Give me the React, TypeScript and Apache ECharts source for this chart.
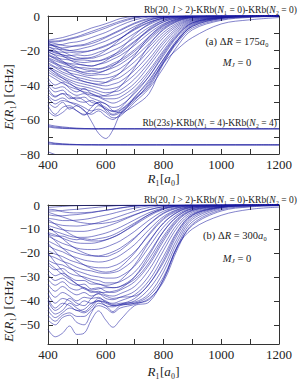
import { useEffect, useRef } from 'react';
import * as echarts from 'echarts';

// Sample positions R1 [a0]
const R_GRID = [400, 425, 450, 475, 500, 525, 550, 575, 600, 625, 650, 700, 750, 800, 850, 900, 1000, 1100, 1200];

// Panel (a): ΔR = 175 a0, Rb(20,l>2) manifold curves [GHz]
const curvesA: number[][] = [
  [-14, -13.3, -12.5, -11.3, -10, -8.6, -7, -5.8, -4.5, -3, -1.5, -0.2, 0, 0, 0, 0, 0, 0, 0],
  [-15, -15, -14.5, -13.5, -12.5, -11.3, -10, -8.5, -7, -5.3, -3.8, -1.2, -0.2, 0, 0, 0, 0, 0, 0],
  [-16, -16.8, -16.5, -15.5, -15, -14, -12.5, -11, -9.5, -7.5, -5.5, -2.3, -0.6, -0.1, 0, 0, 0, 0, 0],
  [-17, -17.5, -18.5, -18, -17, -16.5, -15, -13.5, -12, -10, -8, -4, -1.3, -0.3, 0, 0, 0, 0, 0],
  [-18, -19, -19.5, -20, -19.5, -18.5, -17.5, -16, -14.5, -12.5, -10.5, -6, -2.5, -0.7, -0.1, 0, 0, 0, 0],
  [-19, -20.5, -21, -21, -21.5, -21, -20, -18.5, -17, -15, -13, -8, -3.8, -1.2, -0.3, 0, 0, 0, 0],
  [-20, -21, -22.5, -23, -22.5, -23, -22.5, -21, -19.5, -17.5, -15.5, -10, -5, -1.8, -0.5, -0.1, 0, 0, 0],
  [-21, -22.5, -23.5, -24.5, -25, -24.5, -24.5, -23.5, -22, -20, -18, -12.5, -6.5, -2.5, -0.8, -0.2, 0, 0, 0],
  [-22, -24, -25, -25.5, -26.5, -27, -26.5, -26, -24.5, -22.5, -20.5, -14.5, -8, -3.3, -1.1, -0.3, 0, 0, 0],
  [-23, -24.5, -26.5, -27.5, -28, -28.5, -29, -28, -27, -25, -23, -17, -10, -4.5, -1.6, -0.5, 0, 0, 0],
  [-24, -26, -27.5, -29, -30, -30, -30.5, -30.5, -29.5, -27.5, -25.5, -19.5, -12, -5.5, -2, -0.6, -0.1, 0, 0],
  [-25, -27.5, -29, -30, -31.5, -32.5, -32, -32.5, -31.5, -30, -28, -22, -14, -6.8, -2.6, -0.8, -0.1, 0, 0],
  [-26, -28, -30.5, -31.5, -32.5, -34, -34.5, -34, -34, -32.5, -30.5, -24, -16, -8, -3.2, -1, -0.1, 0, 0],
  [-27, -29.5, -31, -33, -34, -35, -36, -36.5, -36, -35, -33, -26.5, -18, -9.5, -4, -1.3, -0.2, 0, 0],
  [-28, -30, -32.5, -34, -35.5, -36.5, -37.5, -38, -38.5, -37, -35.5, -29, -20, -11, -4.8, -1.7, -0.3, 0, 0],
  [-29, -31.5, -33.5, -35.5, -37, -38, -39, -40, -40.5, -39.5, -38, -31.5, -22.5, -12.5, -5.6, -2, -0.4, 0, 0],
  [-30, -32.5, -35, -37, -38.5, -39.5, -40.5, -41.5, -42.5, -42, -40.5, -34, -25, -14.5, -6.5, -2.4, -0.5, -0.1, 0],
  [-31, -34, -36, -38, -40, -41, -42, -43.5, -44.5, -44, -43, -36.5, -27, -16, -7.5, -2.8, -0.6, -0.1, 0],
  [-32.5, -35, -37.5, -39.5, -41.5, -42.5, -43.5, -45, -46.5, -46, -45, -39, -29, -18, -8.5, -3.2, -0.7, -0.1, 0],
  [-34, -36.5, -39, -41, -42.5, -44, -45, -46.5, -48, -48, -47, -41, -31.5, -20, -9.5, -3.7, -0.8, -0.2, 0],
  [-36, -40, -38.5, -42, -44, -42, -45, -47, -49, -50.5, -49, -43, -33, -21, -10.5, -4, -0.9, -0.2, 0],
  [-38, -42, -41, -44, -46, -45, -47.5, -49, -51, -53, -52, -45, -35, -23, -11.5, -4.5, -1, -0.2, 0],
  [-40, -44, -43, -47, -48, -47, -50, -51, -53, -55.5, -54.5, -47, -37, -25, -13, -5, -1.1, -0.3, 0],
  [-42, -46.5, -45, -48, -47, -49, -52, -50, -55, -57.5, -56, -49, -39, -27, -14, -5.5, -1.2, -0.3, 0],
  [-46, -49, -47.5, -50, -52, -54.5, -61, -68, -71, -66, -57, -48, -40, -26, -14, -6, -1.4, -0.3, 0],
  [-50, -53, -50, -54, -52, -55, -57, -55, -58, -60, -57, -52, -45, -27.5, -19, -12.5, -4.6, -2.2, -0.9],
  [-52, -57, -53, -52, -55, -57.5, -53, -50, -51, -55, -56, -47, -38, -25, -14, -6, -1.5, -0.4, 0],
  [-55, -58, -56, -53, -55, -57, -56, -52, -54, -57, -55, -48, -41, -27, -15, -7, -2, -0.6, 0],
  [-15.5, -18, -20.5, -22.5, -24, -24.5, -24, -22.5, -20, -17, -13.5, -7, -2.5, -0.6, -0.1, 0, 0, 0, 0],
  [-17.5, -20, -23, -25.5, -27.5, -28.5, -29, -28, -26, -23, -19.5, -11, -4.5, -1.2, -0.2, 0, 0, 0, 0],
  [-20.5, -23, -26, -29, -31.5, -33, -33.5, -33, -31.5, -29, -25.5, -16, -7.5, -2.5, -0.6, -0.1, 0, 0, 0],
  [-24.5, -27, -30, -33, -36, -38, -39, -39.5, -38.5, -36, -33, -23, -12, -5, -1.6, -0.4, 0, 0, 0],
  [-29.5, -33, -36, -39, -42, -44.5, -46, -46.5, -46, -44, -41, -30, -17, -7.5, -2.8, -0.8, -0.1, 0, 0],
  [-44, -47, -45, -46, -49, -50, -49, -51, -54, -55, -53.5, -44, -35, -22, -11, -4, -0.9, -0.2, 0],
  [-47, -51, -49, -50, -51, -53, -55, -54, -56, -59, -58, -50, -42, -30, -17, -8, -2.5, -0.8, -0.2],
  [-14.5, -14.5, -14, -13, -12, -10.5, -9, -7.5, -6, -4.5, -3, -0.8, -0.1, 0, 0, 0, 0, 0, 0],
  [-15, -16, -17, -17.5, -17.5, -17, -16, -14.5, -12.5, -10.5, -8.5, -4.5, -1.8, -0.5, -0.1, 0, 0, 0, 0],
  [-16.5, -17.5, -19, -20, -20.5, -20.5, -20, -19, -17.5, -15.5, -13, -7.5, -3.5, -1.2, -0.3, 0, 0, 0, 0],
  [-19.5, -21.5, -22.5, -24, -25.5, -25.5, -26, -26, -25, -23.5, -21.5, -15, -8.5, -3.5, -1.1, -0.3, 0, 0, 0],
  [-22.5, -25, -27, -28, -29.5, -31, -31.5, -31, -30, -28.5, -26.5, -20.5, -13, -6, -2.2, -0.6, -0.1, 0, 0],
];

// Panel (a): Rb(23s)-KRb(N=4)-KRb(N=4) and lower thresholds [GHz]
const flatA: number[][] = [
  [-63, -63.8, -64.3, -64.7, -65, -65.2, -65.3, -65.4, -65.4, -65.4, -65.4, -65.4, -65.4, -65.4, -65.4, -65.4, -65.4, -65.4, -65.4],
  [-63.7, -64.4, -64.8, -65.1, -65.3, -65.4, -65.4, -65.4, -65.4, -65.4, -65.4, -65.4, -65.4, -65.4, -65.4, -65.4, -65.4, -65.4, -65.4],
  [-64.3, -64.9, -65.2, -65.3, -65.4, -65.4, -65.4, -65.4, -65.4, -65.4, -65.4, -65.4, -65.4, -65.4, -65.4, -65.4, -65.4, -65.4, -65.4],
  [-73, -73.7, -74.1, -74.3, -74.5, -74.6, -74.6, -74.7, -74.7, -74.7, -74.7, -74.7, -74.7, -74.7, -74.7, -74.7, -74.7, -74.7, -74.7],
  [-73.5, -74, -74.3, -74.5, -74.6, -74.7, -74.7, -74.7, -74.7, -74.7, -74.7, -74.7, -74.7, -74.7, -74.7, -74.7, -74.7, -74.7, -74.7],
  [-74.2, -74.5, -74.6, -74.7, -74.7, -74.7, -74.7, -74.7, -74.7, -74.7, -74.7, -74.7, -74.7, -74.7, -74.7, -74.7, -74.7, -74.7, -74.7],
  [-78.7, -80.3, -81, -81.5, -82, -82, -82, -82, -82, -82, -82, -82, -82, -82, -82, -82, -82, -82, -82],
];

// Panel (b): ΔR = 300 a0 curves [GHz]
const curvesB: number[][] = [
  [-1, -0.8, -0.6, -0.4, -0.3, -0.2, -0.1, 0, 0, 0, 0, 0, 0, 0, 0, 0, 0, 0, 0],
  [-2.5, -2.5, -2.3, -2, -1.8, -1.5, -1.2, -0.9, -0.6, -0.4, -0.2, 0, 0, 0, 0, 0, 0, 0, 0],
  [-4, -4.5, -4.5, -4.2, -4, -3.6, -3.2, -2.7, -2.2, -1.7, -1.2, -0.4, -0.1, 0, 0, 0, 0, 0, 0],
  [-5.5, -6, -6.5, -6.5, -6.3, -6, -5.5, -4.8, -4.2, -3.5, -2.7, -1.3, -0.4, -0.1, 0, 0, 0, 0, 0],
  [-7, -7.8, -8.5, -8.7, -8.8, -8.5, -8, -7.3, -6.5, -5.6, -4.6, -2.6, -1, -0.3, 0, 0, 0, 0, 0],
  [-8.5, -9.5, -10.3, -10.8, -11, -11, -10.5, -9.8, -9, -8, -6.8, -4.2, -2, -0.7, -0.2, 0, 0, 0, 0],
  [-10, -11, -12, -13, -13.5, -13.5, -13.2, -12.5, -11.7, -10.6, -9.3, -6.2, -3.2, -1.2, -0.4, -0.1, 0, 0, 0],
  [-11.5, -12.5, -13.8, -15, -15.8, -16, -16, -15.5, -14.6, -13.4, -12, -8.4, -4.6, -1.8, -0.6, -0.2, 0, 0, 0],
  [-13, -14.5, -16, -17, -18, -18.5, -18.6, -18.4, -17.6, -16.4, -15, -11, -6.3, -2.6, -0.9, -0.3, 0, 0, 0],
  [-15, -16.5, -18, -19, -20, -20.8, -21.2, -21.2, -20.6, -19.5, -18, -13.6, -8.2, -3.6, -1.3, -0.4, 0, 0, 0],
  [-17, -18.5, -19.5, -21, -22, -23, -23.5, -23.8, -23.5, -22.5, -21, -16.5, -10.3, -4.8, -1.8, -0.6, -0.1, 0, 0],
  [-19, -20.5, -21.5, -23, -24, -25, -25.8, -26.2, -26.2, -25.5, -24.2, -19.5, -12.5, -6, -2.4, -0.8, -0.1, 0, 0],
  [-21, -22, -23.5, -24.5, -26, -27, -27.5, -28.3, -28.5, -28.2, -27.2, -22.5, -15, -7.5, -3, -1, -0.2, 0, 0],
  [-23, -24.5, -25, -26.5, -27.5, -28.5, -29.5, -30, -30.5, -30.5, -29.8, -25.5, -17.5, -9.2, -3.8, -1.3, -0.2, 0, 0],
  [-25, -27, -26.5, -28.5, -29.5, -30, -31, -31.5, -32.5, -32.5, -32, -28, -20, -11, -4.6, -1.6, -0.3, 0, 0],
  [-27, -29.5, -28.5, -30, -31.5, -31.5, -33, -33, -34, -34.5, -34, -30, -22.5, -13, -5.5, -2, -0.4, -0.1, 0],
  [-29, -31.5, -30.5, -32.5, -33.5, -33, -35, -34.5, -36, -36.5, -35.5, -32, -25, -15, -6.5, -2.4, -0.5, -0.1, 0],
  [-31, -33.5, -32, -34.5, -35.5, -34.5, -36.5, -36, -37.5, -38, -37, -34, -27, -17, -7.7, -2.9, -0.6, -0.1, 0],
  [-33, -36, -34, -36, -37.5, -36.5, -38, -37, -39, -39.5, -38.5, -36, -29.5, -19, -9, -3.5, -0.7, -0.1, 0],
  [-35, -38.5, -36.5, -38, -40, -38.5, -39, -38.5, -40.5, -41, -40, -37.5, -31.5, -21.5, -10.5, -4, -0.8, -0.2, 0],
  [-37, -41, -39, -40, -42, -40, -41, -40, -42, -42.5, -41.5, -39, -33, -24, -12, -4.5, -0.9, -0.2, 0],
  [-39, -43, -41, -42, -44, -43.5, -41, -40, -41, -42, -41.5, -40, -35, -26, -13.5, -5.2, -1, -0.2, 0],
  [-42, -45.5, -44, -41, -43, -44.5, -42, -39, -40, -41.5, -41, -40.5, -37, -28, -15, -6, -1.2, -0.3, 0],
  [-44, -47, -45, -43, -44, -45, -43, -40, -40.5, -42, -41.7, -41, -38, -30, -16.5, -7, -1.5, -0.4, -0.1],
  [-46, -48.5, -46, -45, -46.5, -46.5, -44, -42, -43, -45, -43, -41.5, -39, -32, -18, -8, -2, -0.6, -0.2],
  [-52, -55, -53.5, -50.5, -54, -53.5, -48, -44.2, -48, -51, -48, -42, -40.5, -31, -17, -10, -4.3, -1.8, -0.9],
  [-6, -8, -10, -12, -13.5, -14.5, -15, -15, -14.5, -13.5, -12, -8, -4, -1.5, -0.4, 0, 0, 0, 0],
  [-9, -11.5, -14, -16.5, -18.5, -20, -21, -21.5, -21.5, -20.5, -19, -14, -8, -3.3, -1.1, -0.3, 0, 0, 0],
  [-12, -15, -18, -20.5, -23, -25, -26.5, -27.5, -28, -27.5, -26, -20, -12, -5.5, -2, -0.6, -0.1, 0, 0],
  [-16, -19.5, -23, -26, -28.5, -30.5, -32, -33, -33.5, -33, -31.5, -25, -15.5, -7.5, -2.8, -0.9, -0.1, 0, 0],
  [-20, -24, -27.5, -30.5, -33, -35, -36, -36.5, -36.5, -36, -35, -30, -21, -11, -4.5, -1.5, -0.2, 0, 0],
  [-3, -4, -5, -6, -7, -7.5, -7.8, -7.8, -7.5, -7, -6.2, -4, -2, -0.7, -0.2, 0, 0, 0, 0],
  [-24, -26.5, -29, -31, -33, -34.5, -35.5, -35, -34.5, -34.5, -34, -31, -24, -14, -6, -2.2, -0.4, -0.1, 0],
  [-1.8, -2, -2.8, -3.2, -3.3, -3.2, -3, -2.6, -2.2, -1.8, -1.3, -0.5, -0.1, 0, 0, 0, 0, 0, 0],
  [-12, -13, -13, -14, -14.5, -14, -14.5, -14, -13.5, -12.5, -11, -7.5, -4, -1.5, -0.4, -0.1, 0, 0, 0],
  [-48, -50, -47, -46, -49, -50, -45, -41, -42, -44.5, -42, -41, -39.5, -31, -17, -8.5, -2.5, -0.8, -0.3],
  [-40, -44, -42, -39, -41, -42, -39, -37, -38, -39, -38.5, -38, -33, -23, -11, -4.2, -0.9, -0.2, 0],
];

const X_TICKS = { min: 400, max: 1200, step: 200 };
const Y_A = { min: -80, max: 0, step: 20 };
const Y_B = { min: -58, max: 0 };

const FONT = "'Liberation Serif', 'DejaVu Serif', serif";
const AX = '#333';
const TXT = '#222';
const LINE = '#1c1ca0';

const fmtNum = (v: number) => (v < 0 ? '\u2212' + String(-v) : String(v));

function tok(size: number, italic = false) {
  return { fontFamily: FONT, fontSize: size, fontStyle: italic ? 'italic' : 'normal', fill: TXT, color: TXT };
}
function richSet(size: number) {
  return {
    n: tok(size),
    i: tok(size, true),
    s: { ...tok(size * 0.68, true), verticalAlign: 'bottom', lineHeight: size * 1.3 },
  };
}

function xAxesFor(grid: number, nameGap: number) {
  const common = {
    type: 'value',
    gridIndex: grid,
    min: X_TICKS.min,
    max: X_TICKS.max,
    interval: X_TICKS.step,
    splitLine: { show: false },
    axisLine: { show: true, onZero: false, lineStyle: { color: AX, width: 1 } },
    axisTick: { show: true, inside: true, length: 5, lineStyle: { color: AX } },
    minorTick: { show: true, splitNumber: 2, length: 5, lineStyle: { color: AX } },
  };
  return [
    {
      ...common,
      position: 'bottom',
      axisLabel: { color: TXT, fontFamily: FONT, fontSize: 13, margin: 4, formatter: (v: number) => String(v) },
      name: '{i|R}{n|\u2081[}{i|a}{n|\u2080]}',
      nameLocation: 'middle',
      nameGap,
      nameTextStyle: { fontFamily: FONT, fontSize: 13, color: TXT, rich: richSet(13) },
    },
    { ...common, position: 'top', axisLabel: { show: false } },
  ];
}

function yAxesFor(grid: number, cfg: { min: number; max: number; step?: number }) {
  const common: any = {
    type: 'value',
    gridIndex: grid,
    min: cfg.min,
    max: cfg.max,
    splitLine: { show: false },
    axisLine: { show: true, onZero: false, lineStyle: { color: AX, width: 1 } },
    axisTick: { show: true, inside: true, length: 5, lineStyle: { color: AX } },
  };
  if (cfg.step) {
    common.interval = cfg.step;
    common.minorTick = { show: true, splitNumber: 2, length: 5, lineStyle: { color: AX } };
  } else {
    common.splitNumber = 6;
  }
  return [
    {
      ...common,
      position: 'left',
      axisLabel: {
        color: TXT,
        fontFamily: FONT,
        fontSize: 13,
        margin: 8,
        formatter: (v: number) => (Math.abs(v % 10) > 1e-6 ? '' : fmtNum(v)),
      },
    },
    { ...common, position: 'right', axisLabel: { show: false } },
  ];
}

function seriesFrom(curves: number[][], axisIdx: number, width: number, opacity: number) {
  return curves.map((c) => ({
    type: 'line',
    xAxisIndex: axisIdx,
    yAxisIndex: axisIdx,
    data: c.map((v, k) => [R_GRID[k], v]),
    showSymbol: false,
    smooth: 0.35,
    clip: true,
    silent: true,
    lineStyle: { color: LINE, width, opacity },
  }));
}

function gtext(x: number, y: number, text: string, size: number, align: string, rotation = 0) {
  return {
    type: 'text',
    x,
    y,
    rotation,
    silent: true,
    style: {
      text,
      fontFamily: FONT,
      fontSize: size,
      fill: TXT,
      align,
      verticalAlign: 'middle',
      rich: richSet(size),
    },
  };
}

export default function App() {
  const ref = useRef<HTMLDivElement>(null);
  useEffect(() => {
    if (!ref.current) return;
    const chart = echarts.init(ref.current, null, { renderer: 'svg' });
    const option: any = {
      animation: false,
      backgroundColor: '#ffffff',
      grid: [
        { left: 48, top: 16, width: 231, height: 138 },
        { left: 48, top: 205, width: 231, height: 139 },
      ],
      xAxis: [...xAxesFor(0, 16), ...xAxesFor(1, 21)],
      yAxis: [...yAxesFor(0, Y_A), ...yAxesFor(1, Y_B)],
      series: [
        ...seriesFrom(curvesA, 0, 0.75, 0.72),
        ...seriesFrom(flatA, 0, 0.7, 0.85),
        ...seriesFrom(curvesB, 2, 0.75, 0.72),
      ],
      graphic: [
        gtext(8, 97, '{i|E}{n|(}{i|R}{n|\u2081) [GHz]}', 13, 'center', Math.PI / 2),
        gtext(8, 309, '{i|E}{n|(}{i|R}{n|\u2081) [GHz]}', 13, 'center', Math.PI / 2),
        gtext(297, 10, '{n|Rb(20, }{i|l}{n| > 2)-KRb(}{i|N}{n|\u2081 = 0)-KRb(}{i|N}{n|\u2082 = 0)}', 9.5, 'right'),
        gtext(297, 200, '{n|Rb(20, }{i|l}{n| > 2)-KRb(}{i|N}{n|\u2081 = 0)-KRb(}{i|N}{n|\u2082 = 0)}', 9.5, 'right'),
        gtext(237, 41, '{n|(a) \u0394}{i|R}{n| = 175}{i|a}{n|\u2080}', 10.5, 'center'),
        gtext(237, 62, '{i|M}{s|J}{n| = 0}', 10.5, 'center'),
        gtext(235, 235, '{n|(b) \u0394}{i|R}{n| = 300}{i|a}{n|\u2080}', 10.5, 'center'),
        gtext(237, 258, '{i|M}{s|J}{n| = 0}', 10.5, 'center'),
        gtext(277, 123, '{n|Rb(23}{i|s}{n|)-KRb(}{i|N}{n|\u2081 = 4)-KRb(}{i|N}{n|\u2082 = 4)}', 9.5, 'right'),
      ],
    };
    chart.setOption(option);
    return () => chart.dispose();
  }, []);
  return (
    <div
      ref={ref}
      style={{ position: 'fixed', left: 0, top: 0, width: 300, height: 381, background: '#fff' }}
    />
  );
}
